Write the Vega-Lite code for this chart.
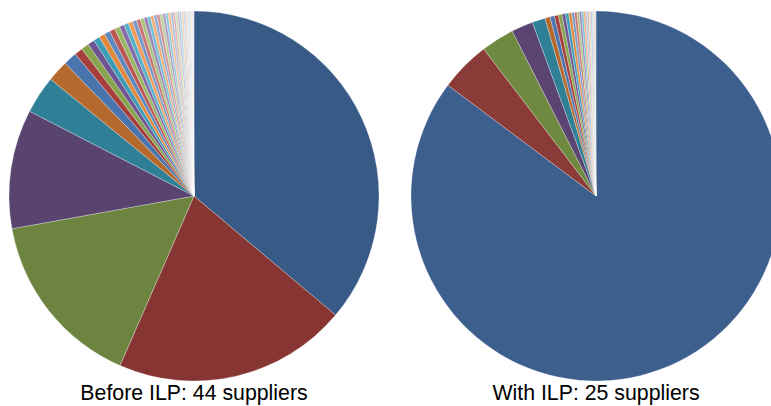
{
  "$schema": "https://vega.github.io/schema/vega-lite/v6.json",
  "background": "white",
  "padding": {"left": 8, "top": 10, "right": -7, "bottom": 0},
  "config": {
    "view": {"stroke": null},
    "title": {"font": "Liberation Sans", "fontSize": 21.3, "fontWeight": "normal", "color": "#000000", "orient": "bottom", "anchor": "middle", "offset": 1}
  },
  "spacing": 30,
  "resolve": {"scale": {"color": "independent", "theta": "independent"}},
  "hconcat": [
    {
      "title": "Before ILP: 44 suppliers",
      "width": 370,
      "height": 370,
      "data": {"values": [
        {"supplier": "S01", "rank": 1, "share": 36.1},
        {"supplier": "S02", "rank": 2, "share": 20.4},
        {"supplier": "S03", "rank": 3, "share": 15.6},
        {"supplier": "S04", "rank": 4, "share": 10.4},
        {"supplier": "S05", "rank": 5, "share": 3.3},
        {"supplier": "S06", "rank": 6, "share": 1.86},
        {"supplier": "S07", "rank": 7, "share": 1.17},
        {"supplier": "S08", "rank": 8, "share": 0.72},
        {"supplier": "S09", "rank": 9, "share": 0.67},
        {"supplier": "S10", "rank": 10, "share": 0.6},
        {"supplier": "S11", "rank": 11, "share": 0.55},
        {"supplier": "S12", "rank": 12, "share": 0.52},
        {"supplier": "S13", "rank": 13, "share": 0.5},
        {"supplier": "S14", "rank": 14, "share": 0.48},
        {"supplier": "S15", "rank": 15, "share": 0.45},
        {"supplier": "S16", "rank": 16, "share": 0.42},
        {"supplier": "S17", "rank": 17, "share": 0.4},
        {"supplier": "S18", "rank": 18, "share": 0.38},
        {"supplier": "S19", "rank": 19, "share": 0.36},
        {"supplier": "S20", "rank": 20, "share": 0.34},
        {"supplier": "S21", "rank": 21, "share": 0.32},
        {"supplier": "S22", "rank": 22, "share": 0.3},
        {"supplier": "S23", "rank": 23, "share": 0.29},
        {"supplier": "S24", "rank": 24, "share": 0.28},
        {"supplier": "S25", "rank": 25, "share": 0.27},
        {"supplier": "S26", "rank": 26, "share": 0.26},
        {"supplier": "S27", "rank": 27, "share": 0.25},
        {"supplier": "S28", "rank": 28, "share": 0.24},
        {"supplier": "S29", "rank": 29, "share": 0.23},
        {"supplier": "S30", "rank": 30, "share": 0.22},
        {"supplier": "S31", "rank": 31, "share": 0.21},
        {"supplier": "S32", "rank": 32, "share": 0.2},
        {"supplier": "S33", "rank": 33, "share": 0.19},
        {"supplier": "S34", "rank": 34, "share": 0.18},
        {"supplier": "S35", "rank": 35, "share": 0.17},
        {"supplier": "S36", "rank": 36, "share": 0.16},
        {"supplier": "S37", "rank": 37, "share": 0.15},
        {"supplier": "S38", "rank": 38, "share": 0.14},
        {"supplier": "S39", "rank": 39, "share": 0.13},
        {"supplier": "S40", "rank": 40, "share": 0.12},
        {"supplier": "S41", "rank": 41, "share": 0.11},
        {"supplier": "S42", "rank": 42, "share": 0.1},
        {"supplier": "S43", "rank": 43, "share": 0.09},
        {"supplier": "S44", "rank": 44, "share": 0.08}
      ]},
      "mark": {"type": "arc", "radius": 185, "stroke": "#ffffff", "strokeWidth": 0.4, "strokeOpacity": 0.7},
      "encoding": {
        "theta": {"field": "share", "type": "quantitative", "stack": true},
        "order": {"field": "rank", "type": "quantitative", "sort": "ascending"},
        "color": {
          "field": "rank",
          "type": "ordinal",
          "legend": null,
          "scale": {"range": [
            "#375A87", "#873532", "#6C8440", "#594470", "#2F8097", "#B5692D",
            "#4A74AD", "#A63E3B", "#86A44B", "#6E5592", "#3E9CB6", "#E0883C",
            "#5E88BE", "#BD5754", "#99B763", "#836BA8", "#55B0C9", "#F19B57",
            "#7799C9", "#C97573", "#AAC47E", "#9884B7", "#72BED3", "#F4AC74",
            "#92AED5", "#D49492", "#BDD19C", "#AE9EC7", "#90CCDD", "#F7BE92",
            "#ADC2DF", "#DFB3B2", "#D0DEB9", "#C5BAD7", "#AFDAE7", "#F9D0B0",
            "#C6D5EA", "#E9CFCE", "#E1EAD4", "#DAD3E6", "#CCE7EF", "#FBE0CC",
            "#DCE5F2", "#F2E2E1"
          ]}
        }
      }
    },
    {
      "title": "With ILP: 25 suppliers",
      "width": 370,
      "height": 370,
      "data": {"values": [
        {"supplier": "S01", "rank": 1, "share": 85.3},
        {"supplier": "S02", "rank": 2, "share": 4.4},
        {"supplier": "S03", "rank": 3, "share": 2.9},
        {"supplier": "S04", "rank": 4, "share": 1.9},
        {"supplier": "S05", "rank": 5, "share": 1.14},
        {"supplier": "S06", "rank": 6, "share": 0.45},
        {"supplier": "S07", "rank": 7, "share": 0.38},
        {"supplier": "S08", "rank": 8, "share": 0.35},
        {"supplier": "S09", "rank": 9, "share": 0.32},
        {"supplier": "S10", "rank": 10, "share": 0.3},
        {"supplier": "S11", "rank": 11, "share": 0.28},
        {"supplier": "S12", "rank": 12, "share": 0.26},
        {"supplier": "S13", "rank": 13, "share": 0.24},
        {"supplier": "S14", "rank": 14, "share": 0.22},
        {"supplier": "S15", "rank": 15, "share": 0.2},
        {"supplier": "S16", "rank": 16, "share": 0.19},
        {"supplier": "S17", "rank": 17, "share": 0.18},
        {"supplier": "S18", "rank": 18, "share": 0.17},
        {"supplier": "S19", "rank": 19, "share": 0.16},
        {"supplier": "S20", "rank": 20, "share": 0.15},
        {"supplier": "S21", "rank": 21, "share": 0.14},
        {"supplier": "S22", "rank": 22, "share": 0.13},
        {"supplier": "S23", "rank": 23, "share": 0.12},
        {"supplier": "S24", "rank": 24, "share": 0.11},
        {"supplier": "S25", "rank": 25, "share": 0.1}
      ]},
      "mark": {"type": "arc", "radius": 185, "stroke": "#ffffff", "strokeWidth": 0.4, "strokeOpacity": 0.7},
      "encoding": {
        "theta": {"field": "share", "type": "quantitative", "stack": true},
        "order": {"field": "rank", "type": "quantitative", "sort": "ascending"},
        "color": {
          "field": "rank",
          "type": "ordinal",
          "legend": null,
          "scale": {"range": [
            "#3C5F8E", "#8A3A37", "#6F8A40", "#5A4472", "#2F8097", "#B5692D",
            "#4A74AD", "#A63E3B", "#86A44B", "#6E5592", "#3E9CB6", "#E0883C",
            "#7799C9", "#C97573", "#AAC47E", "#9884B7", "#72BED3", "#F4AC74",
            "#ADC2DF", "#DFB3B2", "#D0DEB9", "#C5BAD7", "#AFDAE7", "#F9D0B0",
            "#D3DDEC"
          ]}
        }
      }
    }
  ]
}
